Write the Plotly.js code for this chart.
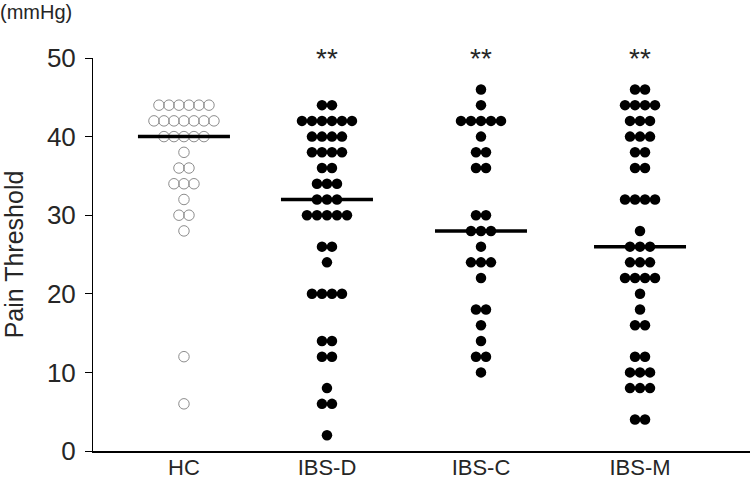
<!DOCTYPE html>
<html>
<head>
<meta charset="utf-8">
<script src="https://cdn.plot.ly/plotly-3.0.1.min.js"></script>
<style>
html,body{margin:0;padding:0;background:#fff;}
#chart{width:750px;height:499px;}
</style>
</head>
<body>
<div id="chart"></div>
<script>
// ---- Data ----
const categories = ["HC", "IBS-D", "IBS-C", "IBS-M"];
const hc = [44,44,44,44,44,44, 42,42,42,42,42,42,42, 40,40,40,40,40, 38, 36,36, 34,34,34, 32, 30,30, 28, 12, 6];
const ibsD = [44,44, 42,42,42,42,42,42, 40,40,40,40, 38,38,38,38, 36,36, 34,34,34, 32,32,32, 30,30,30,30,30, 26,26, 24, 20,20,20,20, 14,14, 12,12, 8, 6,6, 2];
const ibsC = [46, 44, 42,42,42,42,42, 40, 38,38, 36,36, 30,30, 28,28,28, 26, 24,24,24, 22, 18,18, 16, 14, 12,12, 10];
const ibsM = [46,46, 44,44,44,44, 42,42,42, 40,40,40, 38,38, 36,36, 32,32,32,32, 28, 26,26,26, 24,24,24, 22,22,22,22, 20, 18, 16,16, 12,12, 10,10,10, 8,8,8, 4,4];
const significance = ["", "**", "**", "**"];
const yTitle = "Pain Threshold";
const unitLabel = "(mmHg)";

// ---- Layout helpers (positions on the x axis) ----
const groupPos = [1, 2, 3.077, 4.189];
const xRange = [0.364, 4.958];
const plotW = 657;                       // plot width in px
const plotH = 393;
const unitPx = plotW / (xRange[1] - xRange[0]);
const dotStep = 10 / unitPx;             // horizontal spacing of dots
const medianHalf = 46 / unitPx;
const FONT = "Liberation Sans, Arial, sans-serif";

function swarm(vals, center) {
  const counts = {};
  vals.forEach(v => counts[v] = (counts[v] || 0) + 1);
  const seen = {};
  const xs = [];
  vals.forEach(v => {
    const n = counts[v];
    const i = (seen[v] = (seen[v] === undefined ? 0 : seen[v] + 1));
    xs.push(center + (i - (n - 1) / 2) * dotStep);
  });
  return xs;
}
function median(vals) {
  const s = vals.slice().sort((a, b) => a - b);
  const m = Math.floor(s.length / 2);
  return s.length % 2 ? s[m] : (s[m - 1] + s[m]) / 2;
}

const groups = [hc, ibsD, ibsC, ibsM];
const traces = [];
groups.forEach((vals, gi) => {
  const open = gi === 0;
  traces.push({
    type: "scatter", mode: "markers",
    x: swarm(vals, groupPos[gi]), y: vals,
    marker: open
      ? {symbol: "circle-open", size: 10.5, color: "#8c8c8c", line: {width: 1, color: "#8c8c8c"}}
      : {symbol: "circle", size: 10.5, color: "#000000"},
    hoverinfo: "y", showlegend: false, cliponaxis: false
  });
});
groups.forEach((vals, gi) => {
  const m = median(vals);
  traces.push({
    type: "scatter", mode: "lines",
    x: [groupPos[gi] - medianHalf, groupPos[gi] + medianHalf], y: [m, m],
    line: {color: "#000000", width: 3.5},
    hoverinfo: "skip", showlegend: false, cliponaxis: false
  });
});

const annotations = [];
significance.forEach((s, gi) => {
  if (!s) return;
  annotations.push({
    x: groupPos[gi], y: 1.0, xref: "x", yref: "paper",
    text: s, showarrow: false, xanchor: "center", yanchor: "middle",
    font: {family: FONT, size: 28, color: "#262626"}
  });
});
annotations.push({
  x: -95 / plotW, y: 1 + 59 / plotH, xref: "paper", yref: "paper",
  text: unitLabel, showarrow: false, xanchor: "left", yanchor: "top",
  font: {family: FONT, size: 20, color: "#262626"}
});

const layout = {
  width: 750, height: 499,
  margin: {l: 93, r: 0, t: 58, b: 48, pad: 0},
  paper_bgcolor: "#ffffff", plot_bgcolor: "#ffffff",
  font: {family: FONT, color: "#262626"},
  xaxis: {
    range: xRange, tickmode: "array", tickvals: groupPos, ticktext: categories,
    showline: true, linecolor: "#000000", linewidth: 1.5, ticks: "", showgrid: false,
    zeroline: false, tickfont: {size: 22, color: "#262626"}, ticklabelstandoff: -4, fixedrange: true
  },
  yaxis: {
    range: [0, 50], dtick: 10, tick0: 0, ticks: "outside", ticklen: 7, tickcolor: "#000000",
    showline: true, linecolor: "#000000", linewidth: 1, showgrid: false, zeroline: false,
    tickfont: {size: 26, color: "#262626"}, ticklabelstandoff: 4,
    title: {text: yTitle, font: {size: 25, color: "#262626"}, standoff: 18}, fixedrange: true
  },
  annotations: annotations,
  showlegend: false
};

Plotly.newPlot("chart", traces, layout, {displayModeBar: false, staticPlot: true});
</script>
</body>
</html>
